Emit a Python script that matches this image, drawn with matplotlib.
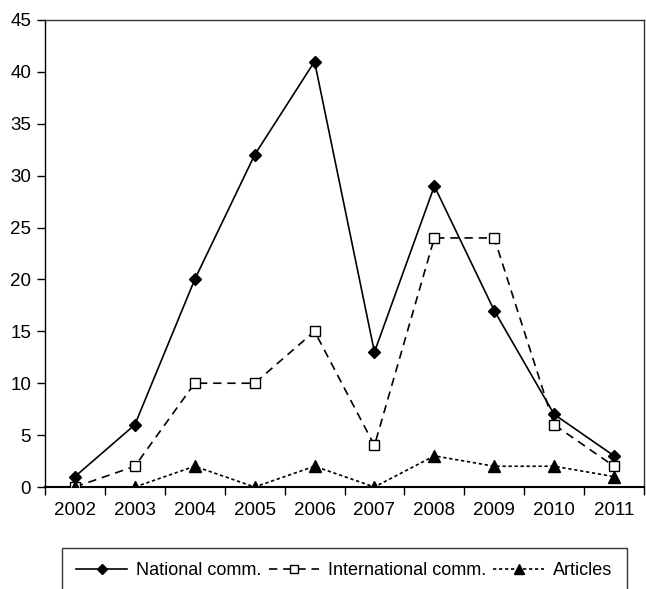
import numpy as np
import matplotlib.pyplot as plt

plt.rcParams['font.family'] = ['Liberation Sans', 'DejaVu Sans']

years = ["2002", "2003", "2004", "2005", "2006", "2007", "2008", "2009", "2010", "2011"]
national = [1, 6, 20, 32, 41, 13, 29, 17, 7, 3]
international = [0, 2, 10, 10, 15, 4, 24, 24, 6, 2]
articles = [0, 0, 2, 0, 2, 0, 3, 2, 2, 1]
y_ticks = [0, 5, 10, 15, 20, 25, 30, 35, 40, 45]


def main():
    fig = plt.figure(figsize=(6.46, 5.89), dpi=100)
    ax = fig.add_axes([45 / 646, 1 - 487 / 589, 599 / 646, 467 / 589])

    x = np.arange(len(years))
    ax.plot(x, national, color="black", lw=1.2, marker="D", ms=6.5,
            label="National comm.", zorder=3)
    ax.plot(x, international, color="black", lw=1.2, ls=(0, (5, 3.5)),
            marker="s", ms=7.5, mfc="white", mec="black", mew=1.0,
            label="International comm.", zorder=4)
    ax.plot(x, articles, color="black", lw=1.2, ls=(0, (2, 1.6)),
            marker="^", ms=8.5, label="Articles", zorder=5)

    ax.set_xlim(-0.5, len(years) - 0.5)
    ax.set_ylim(0, 45)
    ax.set_yticks(y_ticks)
    ax.set_xticks(np.arange(len(years) + 1) - 0.5)
    ax.set_xticklabels([])
    ax.set_xticks(x, minor=True)
    ax.set_xticklabels(years, minor=True)
    ax.tick_params(axis="x", which="major", direction="out", length=6, width=1)
    ax.tick_params(axis="x", which="minor", length=0, pad=11, labelsize=13.5)
    ax.tick_params(axis="y", direction="out", length=6, width=1, labelsize=13.5, pad=4)

    for s in ax.spines.values():
        s.set_linewidth(1.0)
        s.set_color("#333333")
    ax.spines["bottom"].set_linewidth(1.5)
    ax.spines["bottom"].set_color("black")
    ax.spines["left"].set_color("black")

    leg = fig.legend(loc="upper left", bbox_to_anchor=(62 / 646, 1 - 548 / 589),
                     borderaxespad=0, ncol=3, frameon=True, fancybox=False,
                     edgecolor="black", fontsize=13, handlelength=2.8,
                     handletextpad=0.5, columnspacing=0.4, borderpad=0.8,
                     numpoints=1, markerscale=0.85)
    leg.get_frame().set_linewidth(1.0)

    fig.savefig("out.png", dpi=100)


if __name__ == "__main__":
    main()
